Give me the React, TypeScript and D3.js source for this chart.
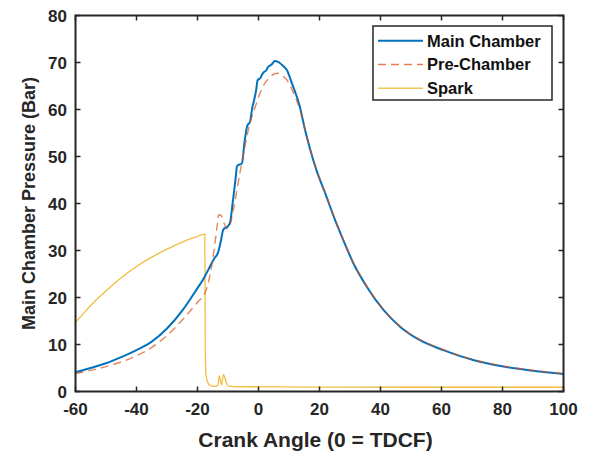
import React from "react";
import * as d3 from "d3";

// Main Chamber pressure (bar) vs crank angle (deg)
const mainAngle = [-60, -55, -50, -45, -40, -35, -30, -25, -20, -18, -16, -14.5, -13.3, -12.5, -11.5, -10, -9.3, -8.5, -7.6, -7.0, -5.4, -4.6, -3.7, -2.8, -2.0, -1.5, -0.8, -0.3, 0.6, 1.5, 2.5, 3.1, 4.2, 5.4, 6.2, 7.0, 8.0, 9.3, 11, 13.6, 15, 16.9, 19, 21.8, 25.1, 27.8, 31.1, 35.5, 40.9, 46.4, 51.9, 60.6, 70.4, 80.3, 90.1, 100];
const mainValue = [4.1, 5.0, 6.0, 7.3, 8.8, 10.6, 13.4, 17.2, 22.0, 24.0, 26.5, 28.3, 29.5, 31.5, 34.5, 35.2, 36.0, 40, 44.8, 48.0, 48.6, 53, 56.5, 57.4, 60.5, 61.8, 64, 66.2, 66.7, 67.8, 68.3, 69.0, 69.5, 70.3, 70.2, 69.9, 69.3, 68.4, 65.5, 60.5, 56.4, 51.6, 47.1, 42.3, 36.5, 32.2, 27.3, 22.3, 17.4, 13.8, 11.3, 8.8, 6.7, 5.3, 4.4, 3.7];

// Pre-Chamber pressure (bar)
const preAngle = [-60, -55, -50, -45, -40, -35, -30, -25, -20, -17.5, -16, -15.2, -14.3, -13.6, -13.0, -12.2, -11.3, -10.2, -9.3, -8, -6.1, -4.5, -2.8, -1, 0.5, 2, 3.8, 5, 6.4, 7.8, 9.3, 11.5, 13.6, 15, 16.9, 19, 21.8, 25.1, 27.8, 31.1, 35.5, 40.9, 46.4, 51.9, 60.6, 70.4, 80.3, 90.1, 100];
const preValue = [3.8, 4.5, 5.3, 6.3, 7.6, 9.4, 11.9, 15.2, 19.0, 21.0, 24.5, 27.3, 31.5, 35.0, 37.6, 37.4, 35.8, 34.6, 35.5, 39.5, 46.5, 52, 57.1, 60.7, 63.5, 65.5, 66.9, 67.5, 67.7, 67.2, 66.3, 63.5, 59.9, 56.5, 51.7, 47.2, 42.4, 36.6, 32.3, 27.4, 22.4, 17.5, 13.9, 11.4, 8.9, 6.8, 5.4, 4.5, 3.8];

// Spark signal
const sparkAngle = [-60, -57, -55, -52, -50, -45, -40, -35, -30, -25, -20, -17.6, -17.45, -17.2, -16.6, -15.9, -14.3, -13.3, -12.9, -12.1, -11.5, -10.4, -9.9, -8, 0, 20, 50, 80, 100];
const sparkValue = [14.7, 16.9, 18.3, 20.2, 21.4, 24.2, 26.6, 28.6, 30.3, 31.8, 33.0, 33.5, 8, 3.5, 1.9, 1.3, 1.1, 1.3, 3.3, 1.4, 3.6, 1.6, 1.2, 1.05, 1.0, 0.95, 0.9, 0.9, 0.9];

const xTicks = [-60, -40, -20, 0, 20, 40, 60, 80, 100];
const yTicks = [0, 10, 20, 30, 40, 50, 60, 70, 80];
const legendLabels = ["Main Chamber", "Pre-Chamber", "Spark"];

const W = 592;
const H = 456;
const L = 75.5, R = 563.5, T = 15.5, B = 391.5;

export default function App() {
  const x = d3.scaleLinear().domain([-60, 100]).range([L, R]);
  const y = d3.scaleLinear().domain([0, 80]).range([B, T]);
  const line = (xs: number[], ys: number[]) =>
    d3.line<number>().curve(d3.curveMonotoneX).x((_, i) => x(xs[i])).y((d) => y(d))(ys) || "";

  const axisColor = "#262626";
  const font = "'Liberation Sans', Arial, Helvetica, sans-serif";
  const colors = ["#0072BD", "#D95319", "#EDB120"];

  return (
    <svg width={W} height={H} style={{ position: "absolute", left: 0, top: 0, background: "#fff" }} fontFamily={font}>
      <rect x={0} y={0} width={W} height={H} fill="#fff" />
      <defs>
        <clipPath id="plotclip">
          <rect x={L} y={T} width={R - L} height={B - T} />
        </clipPath>
      </defs>
      <g clipPath="url(#plotclip)">
        <path d={line(sparkAngle, sparkValue)} fill="none" stroke={colors[2]} strokeWidth={1.3} strokeOpacity={0.85} />
        <path d={line(mainAngle, mainValue)} fill="none" stroke={colors[0]} strokeWidth={2} strokeLinejoin="round" />
        <path d={line(preAngle, preValue)} fill="none" stroke={colors[1]} strokeWidth={1.4} strokeOpacity={0.7} strokeDasharray="8,5" />
      </g>
      {/* axes box */}
      <rect x={L} y={T} width={R - L} height={B - T} fill="none" stroke={axisColor} strokeWidth={2} />
      {xTicks.map((t) => (
        <g key={"x" + t}>
          <line x1={x(t)} x2={x(t)} y1={B} y2={B - 5} stroke={axisColor} strokeWidth={1.5} />
          <line x1={x(t)} x2={x(t)} y1={T} y2={T + 5} stroke={axisColor} strokeWidth={1.5} />
          <text x={x(t)} y={415} textAnchor="middle" fontSize={17} fontWeight="bold" fill={axisColor}>{t}</text>
        </g>
      ))}
      {yTicks.map((t) => (
        <g key={"y" + t}>
          <line x1={L} x2={L + 5} y1={y(t)} y2={y(t)} stroke={axisColor} strokeWidth={1.5} />
          <line x1={R} x2={R - 5} y1={y(t)} y2={y(t)} stroke={axisColor} strokeWidth={1.5} />
          <text x={67} y={y(t)} dy="0.36em" textAnchor="end" fontSize={17} fontWeight="bold" fill={axisColor}>{t}</text>
        </g>
      ))}
      <text x={(L + R) / 2 - 4} y={447} textAnchor="middle" fontSize={21} fontWeight="bold" fill={axisColor}>Crank Angle (0 = TDCF)</text>
      <text transform={`translate(35,${(T + B) / 2}) rotate(-90)`} textAnchor="middle" fontSize={18} fontWeight="bold" fill={axisColor}>Main Chamber Pressure (Bar)</text>
      {/* legend */}
      <rect x={373} y={26} width={179} height={74} fill="#fff" stroke={axisColor} strokeWidth={1.5} />
      {legendLabels.map((lab, i) => {
        const ly = 40.7 + i * 23.8;
        return (
          <g key={lab}>
            <line x1={378} x2={423} y1={ly} y2={ly} stroke={colors[i]}
              strokeWidth={i === 0 ? 2 : 1.4}
              strokeOpacity={i === 0 ? 1 : 0.75}
              strokeDasharray={i === 1 ? "8,5" : undefined} />
            <text x={427} y={ly} dy="0.36em" fontSize={16.5} fontWeight="bold" fill="#111">{lab}</text>
          </g>
        );
      })}
    </svg>
  );
}
